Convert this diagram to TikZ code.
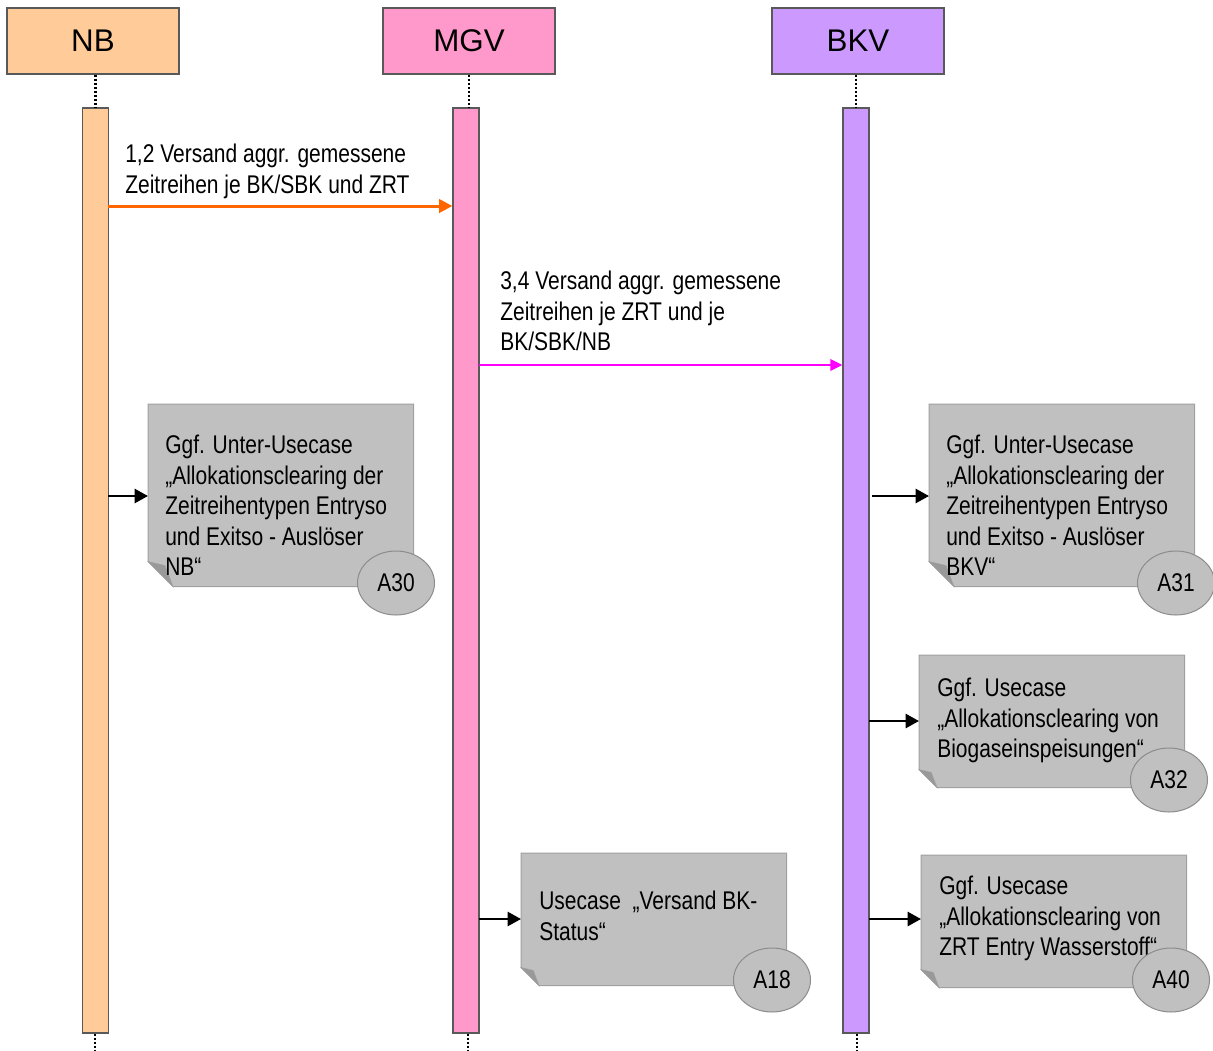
\documentclass[tikz,border=0pt]{standalone}
\usepackage{fontspec}
\setmainfont{Liberation Sans}
\newfontfamily\narrowfont{Liberation Sans}[FakeStretch=0.82]
\usetikzlibrary{shapes.geometric,arrows.meta,calc}
\definecolor{nbfill}{HTML}{FFCC99}
\definecolor{mgvfill}{HTML}{FF99CC}
\definecolor{bkvfill}{HTML}{CC99FF}
\definecolor{notefill}{HTML}{C0C0C0}
\definecolor{noteline}{HTML}{A0A0A0}
\definecolor{foldfill}{HTML}{999999}
\definecolor{orangearr}{HTML}{FF6600}
\definecolor{magarr}{HTML}{FF00FF}
\definecolor{boxline}{HTML}{595959}
\definecolor{ellline}{HTML}{8C8C8C}
\newcommand{\notefold}[2]{%
  \filldraw[fill=notefill, draw=noteline, line width=0.75pt]
    (#1.north west) -- (#1.north east) -- (#1.south east)
    -- ($(#1.south west)+(#2,0)$) -- ($(#1.south west)+(0,-#2)$) -- cycle;
  \filldraw[fill=foldfill, draw=noteline, line width=0.4pt]
    ($(#1.south west)+(0,-#2)$) -- ($(#1.south west)+(0.68*#2,-0.84*#2)$)
    -- ($(#1.south west)+(#2,0)$) -- cycle;}
\begin{document}
\begin{tikzpicture}[x=0.75pt,y=-0.75pt,
  hdr/.style={draw=boxline, line width=0.9pt, minimum width=129pt, minimum height=49.5pt, inner sep=0, font=\fontsize{23.5}{27}\selectfont},
  lifebar/.style={draw=boxline, line width=0.9pt, minimum width=19.5pt, minimum height=693.75pt, inner sep=0},
  life/.style={line width=1.8pt, dash pattern=on 1.6pt off 1.4pt},
  msgtext/.style={anchor=north west, inner sep=0, align=left, font=\narrowfont\fontsize{19.2}{22.9}\selectfont},
  callarrow/.style={line width=1.9pt, -{Triangle[length=10pt,width=10.5pt]}},
  notebg/.style={anchor=north west, inner sep=0, minimum width=198.75pt},
  ellip/.style={ellipse, draw=ellline, line width=0.75pt, fill=notefill, minimum width=57.75pt, minimum height=48pt, inner sep=0, font=\narrowfont\fontsize{19.2}{22}\selectfont}
]
\useasboundingbox (0,0) rectangle (1213,1050);

% headers
\node[hdr, fill=nbfill] (nb) at (93,41) {NB};
\node[hdr, fill=mgvfill] (mgv) at (469,41) {MGV};
\node[hdr, fill=bkvfill] (bkv) at (858,41) {BKV};

% activation bars
\node[lifebar, fill=nbfill] (nbbar) at (95.5,570.5) {};
\node[lifebar, fill=mgvfill] (mgvbar) at (466,570.5) {};
\node[lifebar, fill=bkvfill] (bkvbar) at (856,570.5) {};

% dotted lifelines
\draw[life] (nb.south -| nbbar.north) -- (nbbar.north);
\draw[life] (mgv.south) -- (mgv.south |- mgvbar.north);
\draw[life] (bkv.south -| bkvbar.north) -- (bkvbar.north);
\coordinate (nbend) at (95,1050);
\coordinate (mgvend) at (468,1050);
\coordinate (bkvend) at (857,1050);
\draw[life] (nbbar.south -| nbend) -- (nbend);
\draw[life] (mgvbar.south -| mgvend) -- (mgvend);
\draw[life] (bkvbar.south -| bkvend) -- (bkvend);

% messages
\coordinate (m1) at (108,206);
\draw[orangearr, line width=2.25pt, -{Triangle[length=10pt,width=10pt]}] (m1) -- (mgvbar.west |- m1);
\node[msgtext] (m1t) at (125,144) {1,2 Versand aggr. gemessene\\Zeitreihen je BK/SBK und ZRT};

\coordinate (m2) at (479,365);
\draw[magarr, line width=1.8pt, -{Triangle[length=9pt,width=8.5pt]}] (m2) -- (bkvbar.west |- m2);
\node[msgtext] (m2t) at (500,271) {3,4 Versand aggr. gemessene\\Zeitreihen je ZRT und je\\BK/SBK/NB};

% note A30
\node[notebg, minimum height=136.5pt] (n30) at (148,404) {};
\notefold{n30}{25}
\node[msgtext] (n30t) at (165,435) {Ggf. Unter-Usecase\\„Allokationsclearing der\\Zeitreihentypen Entryso\\und Exitso - Auslöser\\NB“};
\node[ellip] (e30) at (396,583) {A30};
\coordinate (c30) at (108,496);
\draw[callarrow] (c30) -- (n30.west |- c30);

% note A31
\node[notebg, minimum height=136.5pt] (n31) at (929,404) {};
\notefold{n31}{25}
\node[msgtext] (n31t) at (946,435) {Ggf. Unter-Usecase\\„Allokationsclearing der\\Zeitreihentypen Entryso\\und Exitso - Auslöser\\BKV“};
\node[ellip] (e31) at (1176,583) {A31};
\coordinate (c31) at (872,496);
\draw[callarrow] (c31) -- (n31.west |- c31);

% note A32
\node[notebg, minimum height=99pt] (n32) at (919,655) {};
\notefold{n32}{18}
\node[msgtext] (n32t) at (937,678) {Ggf. Usecase\\„Allokationsclearing von\\Biogaseinspeisungen“};
\node[ellip] (e32) at (1169,780) {A32};
\coordinate (c32) at (869,721);
\draw[callarrow] (c32) -- (n32.west |- c32);

% note A18
\node[notebg, minimum height=99pt] (n18) at (521,853) {};
\notefold{n18}{18}
\node[msgtext] (n18t) at (539,891) {Usecase \ „Versand BK-\\Status“};
\node[ellip] (e18) at (772,980) {A18};
\coordinate (c18) at (479,919);
\draw[callarrow] (c18) -- (n18.west |- c18);

% note A40
\node[notebg, minimum height=99pt] (n40) at (921,855) {};
\notefold{n40}{18}
\node[msgtext] (n40t) at (939,876) {Ggf. Usecase\\„Allokationsclearing von\\ZRT Entry Wasserstoff“};
\node[ellip] (e40) at (1171,980) {A40};
\coordinate (c40) at (869,919);
\draw[callarrow] (c40) -- (n40.west |- c40);
\end{tikzpicture}
\end{document}
